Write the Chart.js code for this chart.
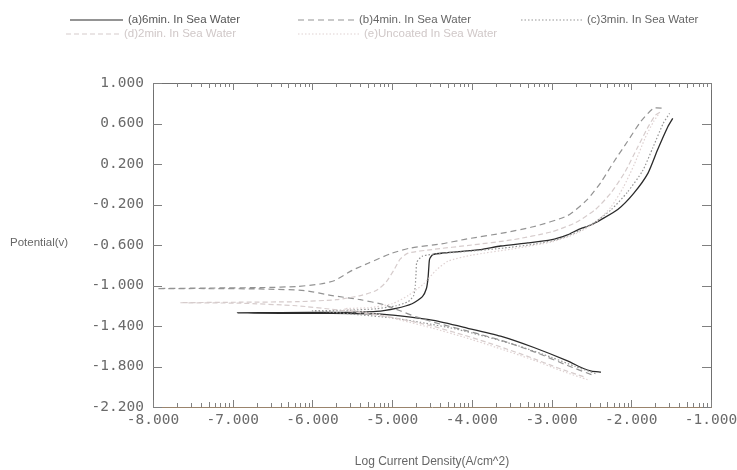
<!DOCTYPE html>
<html>
<head>
<meta charset="utf-8">
<script src="https://cdn.jsdelivr.net/npm/chart.js@4.4.1/dist/chart.umd.min.js"></script>
<style>
  html,body{margin:0;padding:0;background:#fff;}
  #wrap{position:relative;width:737px;height:470px;}
  #c{position:absolute;left:0;top:0;}
  .leg{position:absolute;font-family:"Liberation Sans",Arial,sans-serif;font-size:11.5px;white-space:nowrap;line-height:13px;}
  .leg svg{position:absolute;top:0;}
  .ylab{position:absolute;left:10px;top:236px;font-family:"Liberation Sans",Arial,sans-serif;font-size:11.5px;color:#666;}
</style>
</head>
<body>
<div id="wrap">
  <canvas id="c" width="737" height="470"></canvas>
  <div id="legend"></div>
  <div class="ylab" id="ylab"></div>
</div>
<script>
// ---------- data ----------
const seriesNames = [
  "(a)6min. In Sea Water",
  "(b)4min. In Sea Water",
  "(c)3min. In Sea Water",
  "(d)2min. In Sea Water",
  "(e)Uncoated In Sea Water"
];
const xTickValues = [-8, -7, -6, -5, -4, -3, -2, -1];
const yTickValues = [-2.2, -1.8, -1.4, -1.0, -0.6, -0.2, 0.2, 0.6, 1.0];
const xTitle = "Log Current Density(A/cm^2)";
const yTitle = "Potential(v)";

// [log current density, potential]
const curveA = [
  [-2.38,-1.855],[-2.5,-1.845],[-2.6,-1.82],[-2.8,-1.745],[-3.23,-1.61],[-3.64,-1.5],[-4.06,-1.42],
  [-4.48,-1.345],[-4.9,-1.3],[-5.2,-1.28],[-5.8,-1.275],[-6.4,-1.275],[-6.94,-1.27],
  [-6.4,-1.268],[-5.7,-1.265],[-5.2,-1.255],[-4.95,-1.225],[-4.75,-1.18],[-4.62,-1.11],[-4.57,-1.03],
  [-4.55,-0.93],[-4.54,-0.82],[-4.53,-0.74],[-4.49,-0.695],[-4.35,-0.678],[-3.89,-0.645],[-3.64,-0.61],
  [-3.3,-0.58],[-3.01,-0.55],[-2.8,-0.5],[-2.67,-0.45],[-2.5,-0.4],[-2.38,-0.35],[-2.17,-0.25],
  [-1.97,-0.09],[-1.79,0.11],[-1.67,0.34],[-1.54,0.57],[-1.48,0.65]
];
const curveB = [
  [-2.5,-1.88],[-2.8,-1.79],[-3.2,-1.66],[-3.6,-1.55],[-4.0,-1.46],[-4.4,-1.38],[-4.7,-1.31],[-4.9,-1.25],
  [-5.1,-1.19],[-5.4,-1.14],[-5.75,-1.1],[-6.1,-1.05],[-6.6,-1.035],[-7.3,-1.03],[-7.95,-1.03],
  [-7.3,-1.025],[-6.6,-1.02],[-6.2,-1.01],[-5.9,-0.985],[-5.72,-0.95],[-5.5,-0.85],[-5.3,-0.78],
  [-5.0,-0.68],[-4.77,-0.63],[-4.39,-0.59],[-4.06,-0.54],[-3.6,-0.48],[-3.23,-0.42],[-2.8,-0.31],
  [-2.55,-0.15],[-2.38,0.02],[-2.22,0.22],[-2.05,0.42],[-1.88,0.62],[-1.72,0.75],[-1.59,0.75]
];
const curveC = [
  [-2.45,-1.87],[-2.7,-1.8],[-3.0,-1.71],[-3.4,-1.6],[-3.8,-1.51],[-4.2,-1.43],[-4.6,-1.37],[-5.0,-1.32],
  [-5.4,-1.29],[-5.8,-1.26],[-6.0,-1.25],
  [-5.6,-1.245],[-5.2,-1.23],[-4.95,-1.2],[-4.8,-1.16],[-4.73,-1.1],[-4.71,-1.0],[-4.7,-0.88],[-4.69,-0.77],
  [-4.62,-0.71],[-4.4,-0.685],[-4.0,-0.66],[-3.6,-0.63],[-3.2,-0.59],[-2.9,-0.54],[-2.65,-0.46],
  [-2.45,-0.37],[-2.25,-0.25],[-2.05,-0.08],[-1.86,0.13],[-1.73,0.36],[-1.6,0.6],[-1.52,0.7]
];
const curveD = [
  [-2.6,-1.9],[-2.9,-1.82],[-3.3,-1.7],[-3.7,-1.59],[-4.1,-1.49],[-4.5,-1.4],[-4.9,-1.33],[-5.3,-1.28],
  [-5.7,-1.24],[-6.2,-1.2],[-6.9,-1.175],[-7.66,-1.17],
  [-6.9,-1.165],[-6.2,-1.16],[-5.7,-1.14],[-5.4,-1.1],[-5.2,-1.05],[-5.08,-0.97],[-4.98,-0.85],
  [-4.9,-0.74],[-4.8,-0.68],[-4.5,-0.645],[-4.0,-0.6],[-3.5,-0.55],[-3.0,-0.47],[-2.7,-0.38],
  [-2.45,-0.25],[-2.25,-0.08],[-2.08,0.12],[-1.93,0.35],[-1.8,0.55],[-1.7,0.68],[-1.62,0.72]
];
const curveE = [
  [-2.55,-1.93],[-2.85,-1.85],[-3.25,-1.73],[-3.7,-1.61],[-4.1,-1.51],[-4.5,-1.42],[-4.9,-1.34],
  [-5.2,-1.28],[-5.6,-1.23],
  [-5.3,-1.22],[-5.0,-1.18],[-4.8,-1.1],[-4.6,-0.98],[-4.45,-0.85],[-4.3,-0.76],[-4.0,-0.7],[-3.5,-0.64],
  [-3.0,-0.57],[-2.7,-0.49],[-2.45,-0.38],[-2.25,-0.22],[-2.1,-0.03],[-1.96,0.2],[-1.83,0.45],
  [-1.72,0.62],[-1.65,0.7]
];

// ---------- styles ----------
const styles = [
  {color:"#2a2a2a", dash:[], width:1.3, text:"#555"},
  {color:"#939393", dash:[6,4], width:1.2, text:"#666"},
  {color:"#959595", dash:[1.5,2], width:1.2, text:"#666"},
  {color:"#d6cccc", dash:[5,3], width:1.2, text:"#d0c8c8"},
  {color:"#dfd2d2", dash:[1.5,2], width:1.2, text:"#d0c8c8"}
];
const curves = [curveA, curveB, curveC, curveD, curveE];

const datasets = curves.map((c, i) => ({
  label: seriesNames[i],
  data: c.map(p => ({x: p[0], y: p[1]})),
  showLine: true,
  borderColor: styles[i].color,
  borderDash: styles[i].dash,
  borderWidth: styles[i].width,
  pointRadius: 0,
  tension: 0.2,
  fill: false,
  order: 5 - i
}));

// ---------- HTML legend ----------
const legendPos = [
  {x:70, y:13, w:53}, {x:298, y:13, w:56}, {x:521, y:13, w:61},
  {x:66, y:27, w:53}, {x:298, y:27, w:61}
];
const legendEl = document.getElementById('legend');
seriesNames.forEach((name, i) => {
  const p = legendPos[i], s = styles[i];
  const d = document.createElement('div');
  d.className = 'leg';
  d.style.left = p.x + 'px';
  d.style.top = p.y + 'px';
  d.style.paddingLeft = (p.w + 5) + 'px';
  d.style.color = s.text;
  d.innerHTML = '<svg width="' + p.w + '" height="13" style="left:0"><line x1="0" y1="7" x2="' + p.w +
    '" y2="7" stroke="' + s.color + '" stroke-width="1.2" stroke-dasharray="' + (s.dash.join(',') || 'none') + '"/></svg>';
  d.appendChild(document.createTextNode(name));
  legendEl.appendChild(d);
});
document.getElementById('ylab').textContent = yTitle;

// ---------- frame + inward ticks ----------
const frameTicks = {
  id: 'frameTicks',
  afterDraw(chart) {
    const {ctx, chartArea: {left, right, top, bottom}, scales: {x, y}} = chart;
    ctx.save();
    ctx.lineWidth = 1;
    ctx.strokeStyle = '#707070';
    ctx.beginPath();
    ctx.moveTo(left + 0.5, top + 0.5); ctx.lineTo(right + 0.5, top + 0.5);
    ctx.lineTo(right + 0.5, bottom + 0.5);
    ctx.moveTo(left + 0.5, top + 0.5); ctx.lineTo(left + 0.5, bottom + 0.5);
    ctx.stroke();
    ctx.strokeStyle = '#9a846c';
    ctx.beginPath();
    ctx.moveTo(left, bottom + 0.5); ctx.lineTo(right + 1, bottom + 0.5);
    ctx.stroke();
    ctx.strokeStyle = '#808080';
    ctx.beginPath();
    yTickValues.forEach(v => {
      const py = Math.round(y.getPixelForValue(v)) + 0.5;
      ctx.moveTo(left, py); ctx.lineTo(left + 9, py);
      ctx.moveTo(right, py); ctx.lineTo(right - 9, py);
    });
    xTickValues.forEach((v, i) => {
      const px = Math.round(x.getPixelForValue(v)) + 0.5;
      ctx.moveTo(px, top); ctx.lineTo(px, top + 7);
      ctx.moveTo(px, bottom); ctx.lineTo(px, bottom - 7);
      if (i < xTickValues.length - 1) {
        for (let k = 2; k <= 9; k++) {
          const mx = Math.round(x.getPixelForValue(v + Math.log10(k))) + 0.5;
          const len = (k === 5) ? 5 : 4;
          ctx.moveTo(mx, top); ctx.lineTo(mx, top + len);
          ctx.moveTo(mx, bottom); ctx.lineTo(mx, bottom - len);
        }
      }
    });
    ctx.stroke();
    ctx.restore();
  }
};

const tickFont = {family: "'DejaVu Sans Mono', 'Liberation Mono', monospace", size: 14.5};

new Chart(document.getElementById('c'), {
  type: 'scatter',
  data: {datasets},
  options: {
    responsive: false,
    animation: false,
    layout: {padding: {top: 83, right: 26, left: 0, bottom: 0}},
    plugins: {legend: {display: false}, tooltip: {enabled: false}},
    scales: {
      x: {
        type: 'linear', min: -8, max: -1,
        afterBuildTicks: s => { s.ticks = xTickValues.map(v => ({value: v})); },
        afterFit: s => { s.height = 63; s.paddingLeft = 0; s.paddingRight = 0; },
        ticks: {color: '#6a6a6a', font: tickFont, padding: 5, maxRotation: 0,
                callback: v => v.toFixed(3)},
        grid: {display: false, drawTicks: false},
        border: {display: false},
        title: {display: true, text: xTitle, color: '#666',
                font: {family: "'Liberation Sans', Arial, sans-serif", size: 12},
                padding: {top: 0, bottom: 1}}
      },
      y: {
        type: 'linear', min: -2.2, max: 1.0,
        afterBuildTicks: s => { s.ticks = yTickValues.map(v => ({value: v})); },
        afterFit: s => { s.width = 153; s.paddingTop = 0; s.paddingBottom = 0; },
        ticks: {color: '#6a6a6a', font: tickFont, padding: 9,
                callback: v => v.toFixed(3)},
        grid: {display: false, drawTicks: false},
        border: {display: false}
      }
    }
  },
  plugins: [frameTicks]
});
</script>
</body>
</html>
